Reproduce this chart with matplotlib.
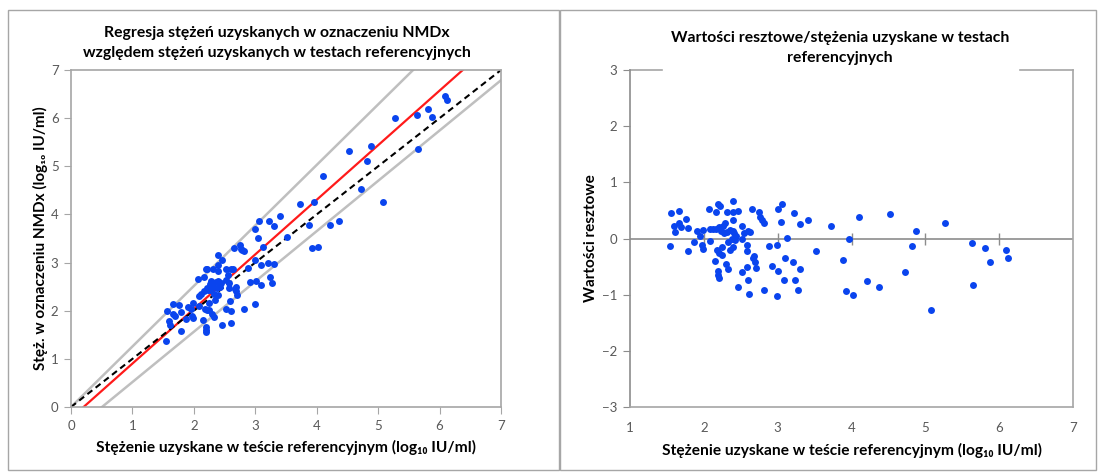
import numpy as np
import matplotlib
matplotlib.use('Agg')
import matplotlib.pyplot as plt
from matplotlib.patches import Rectangle

plt.rcParams['font.family'] = ['Lato', 'DejaVu Sans']

# stężenia w teście referencyjnym (log10 IU/ml)
ref = [1.54, 1.56, 1.59, 1.61, 1.66, 1.66, 1.69, 1.76, 1.79, 1.79,
       1.87, 1.91, 1.95, 1.97, 1.99, 1.99, 2.07, 2.09, 2.09, 2.12,
       2.15, 2.17, 2.17, 2.18, 2.19, 2.19, 2.19, 2.20, 2.21, 2.21,
       2.22, 2.23, 2.24, 2.25, 2.26, 2.27, 2.28, 2.30, 2.31, 2.31,
       2.33, 2.33, 2.35, 2.36, 2.38, 2.39, 2.39, 2.39, 2.40, 2.40,
       2.41, 2.42, 2.44, 2.46, 2.46, 2.52, 2.52, 2.52, 2.55, 2.58,
       2.58, 2.59, 2.60, 2.60, 2.61, 2.63, 2.65, 2.67, 2.68, 2.69,
       2.71, 2.75, 2.76, 2.79, 2.82, 2.81, 2.88, 2.92, 2.99, 2.99,
       3.00, 3.01, 3.04, 3.06, 3.10, 3.09, 3.12, 3.21, 3.22, 3.24,
       3.28, 3.30, 3.30, 3.41, 3.52, 3.72, 3.88, 3.93, 3.96, 4.02,
       4.10, 4.21, 4.37, 4.52, 4.72, 4.82, 4.88, 5.08, 5.27, 5.63,
       5.65, 5.81, 5.88, 6.09, 6.12]

# stężenia w oznaczeniu NMDx (log10 IU/ml)
nmdx = [1.37, 1.99, 1.79, 1.71, 2.14, 1.93, 1.88, 2.11, 1.98, 1.58,
        1.83, 2.07, 2.03, 1.89, 2.17, 1.84, 2.65, 2.31, 2.10, 2.34,
        1.81, 2.70, 2.40, 2.03, 2.87, 1.67, 1.60, 1.55, 2.48, 2.01,
        2.86, 2.43, 2.01, 2.16, 2.56, 2.43, 2.62, 1.93, 2.86, 2.50,
        2.35, 1.86, 2.23, 2.59, 2.47, 3.15, 2.95, 2.61, 2.33, 2.82,
        2.59, 2.49, 2.58, 3.05, 1.70, 2.63, 2.86, 2.03, 2.75, 2.58,
        2.47, 2.20, 1.99, 2.86, 1.75, 2.87, 3.30, 2.45, 2.49, 2.40,
        2.32, 3.36, 3.29, 3.26, 3.24, 2.04, 2.89, 2.59, 3.05, 2.13,
        3.70, 2.61, 3.52, 3.86, 2.94, 2.54, 3.32, 2.99, 3.87, 2.71,
        2.57, 2.96, 3.77, 3.97, 3.53, 4.22, 3.78, 3.30, 4.25, 3.32,
        4.80, 3.79, 3.86, 5.32, 4.52, 5.10, 5.43, 4.25, 6.01, 6.07,
        5.36, 6.19, 6.02, 6.46, 6.37]

# wartości resztowe
resid = [-0.14, 0.45, 0.22, 0.12, 0.49, 0.28, 0.20, 0.35, 0.18, -0.22,
         -0.06, 0.14, 0.05, -0.11, 0.15, -0.18, 0.53, 0.17, -0.04, 0.17,
         -0.40, 0.47, 0.17, -0.21, 0.62, -0.58, -0.65, -0.71, 0.21, -0.26,
         0.57, 0.13, -0.30, -0.16, 0.23, 0.09, 0.27, -0.45, 0.47, 0.11,
         -0.06, -0.55, -0.20, 0.15, 0.00, 0.67, 0.47, 0.13, -0.16, 0.33,
         0.09, -0.02, 0.04, 0.49, -0.86, 0.00, 0.23, -0.60, 0.09, -0.11,
         -0.22, -0.51, -0.73, 0.14, -0.98, 0.12, 0.53, -0.35, -0.32, -0.42,
         -0.52, 0.47, 0.39, 0.33, 0.27, -0.92, -0.14, -0.49, -0.11, -1.03,
         0.53, -0.57, 0.30, 0.62, -0.34, -0.73, 0.01, -0.42, 0.45, -0.73,
         -0.92, -0.55, 0.26, 0.33, -0.23, 0.23, -0.39, -0.93, -0.01, -1.01,
         0.38, -0.75, -0.86, 0.43, -0.60, -0.13, 0.13, -1.28, 0.27, -0.08,
         -0.82, -0.17, -0.42, -0.21, -0.34]

# linie: (nachylenie, wyraz wolny)
reg_line = (1.134, -0.232)
upper_line = (1.257, 0.0)
lower_line = (1.045, -0.527)
ident_line = (1.0, 0.0)

blue = '#0a44ee'
grid_gray = '#a6a6a6'
tick_col = '#595959'

fig = plt.figure(figsize=(10.98, 4.72), dpi=100)

# ramki paneli
fig.add_artist(Rectangle((8/1098, 1-470/472), (559-8)/1098, (470-10)/472,
                         transform=fig.transFigure, fill=False, ec=grid_gray, lw=1))
fig.add_artist(Rectangle((560/1098, 1-470/472), (1096-560)/1098, (470-10)/472,
                         transform=fig.transFigure, fill=False, ec=grid_gray, lw=1))

# --- lewy wykres ---
ax1 = fig.add_axes([71/1098, 1-407/472, 430/1098, 337/472])
xx = np.linspace(0, 7, 200)
for (a, b), c, lw, ls in [(upper_line, '#bfbfbf', 1.8, '-'),
                          (lower_line, '#bfbfbf', 1.8, '-'),
                          (reg_line, '#ff1a1a', 1.6, '-'),
                          (ident_line, 'black', 1.5, (0, (3, 2)))]:
    ax1.plot(xx, a*xx + b, color=c, lw=lw, ls=ls, zorder=2)
ax1.scatter(ref, nmdx, s=25, color=blue, zorder=3, linewidths=0)
ax1.set_xlim(0, 7)
ax1.set_ylim(0, 7)
ax1.set_xticks(range(8))
ax1.set_yticks(range(8))
for sp in ax1.spines.values():
    sp.set_color(grid_gray)
    sp.set_linewidth(1.2)
ax1.tick_params(direction='out', length=5, color=grid_gray, labelcolor=tick_col,
                labelsize=9.5, pad=4)
ax1.set_xlabel('Stężenie uzyskane w teście referencyjnym (log₁₀ IU/ml)',
               fontsize=11.2, fontweight='bold', labelpad=6)
ax1.set_ylabel('Stęż. w oznaczeniu NMDx (log₁₀ IU/ml)',
               fontsize=11, fontweight='bold', labelpad=2)
fig.text(277/1098, 1-33/472, 'Regresja stężeń uzyskanych w oznaczeniu NMDx',
         ha='center', va='center', fontsize=11.3, fontweight='bold')
fig.text(277/1098, 1-53/472, 'względem stężeń uzyskanych w testach referencyjnych',
         ha='center', va='center', fontsize=11.3, fontweight='bold')

# --- prawy wykres ---
ax2 = fig.add_axes([630/1098, 1-407/472, 443/1098, 337/472])
ax2.axhline(0, color='#8c8c8c', lw=1.2, zorder=1)
xt = list(range(1, 8))
ax2.plot(xt[1:-1], [0]*len(xt[1:-1]), ls='none', marker='|', ms=8,
         mec='#8c8c8c', mew=1.0, zorder=1)
ax2.scatter(ref, resid, s=25, color=blue, zorder=3, linewidths=0)
ax2.set_xlim(1, 7)
ax2.set_ylim(-3, 3)
ax2.set_xticks(xt)
ax2.set_yticks(range(-3, 4))
for sp in ax2.spines.values():
    sp.set_color(grid_gray)
    sp.set_linewidth(1.2)
ax2.spines['left'].set_color('#8c8c8c')
ax2.spines['top'].set_visible(False)
ax2.plot([1, 1 + 6*32/443], [3, 3], color=grid_gray, lw=1.2, clip_on=False)
ax2.plot([1 + 6*390/443, 7], [3, 3], color=grid_gray, lw=1.2, clip_on=False)
ax2.tick_params(axis='x', length=0, labelcolor=tick_col, labelsize=9.5, pad=11)
ax2.tick_params(axis='y', direction='out', length=5, color='#8c8c8c',
                labelcolor=tick_col, labelsize=9.5, pad=4)
ax2.set_xlabel('Stężenie uzyskane w teście referencyjnym (log₁₀ IU/ml)',
               fontsize=11.2, fontweight='bold', labelpad=6)
ax2.set_ylabel('Wartości resztowe', fontsize=11, fontweight='bold', labelpad=3)
fig.text(840/1098, 1-38/472, 'Wartości resztowe/stężenia uzyskane w testach',
         ha='center', va='center', fontsize=11.3, fontweight='bold')
fig.text(840/1098, 1-58/472, 'referencyjnych',
         ha='center', va='center', fontsize=11.3, fontweight='bold')

fig.savefig('out.png', dpi=100)
